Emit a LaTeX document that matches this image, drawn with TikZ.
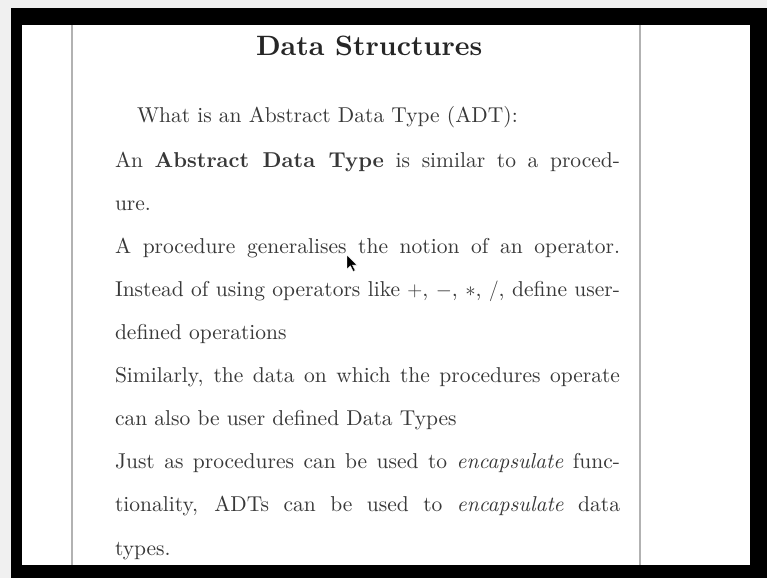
\documentclass[tikz,border=0pt]{standalone}
\usepackage{fontspec}
\setmainfont{lmroman10-regular.otf}[
  BoldFont=lmroman10-bold.otf,
  ItalicFont=lmroman10-italic.otf,
  BoldItalicFont=lmroman10-bolditalic.otf]

\tikzset{
  bodyline/.style={anchor=base west, inner sep=0pt, outer sep=0pt,
    text=black!78, font=\fontsize{21.5}{26}\selectfont},
  titleline/.style={anchor=base west, inner sep=0pt, outer sep=0pt,
    text=black!85, font=\fontsize{28}{32}\selectfont\bfseries},
  ruleline/.style={draw=black!30, line width=1.5pt}
}
% width of a justified line of the page
\newlength{\linew}
\setlength{\linew}{505pt}

\begin{document}
\begin{tikzpicture}[x=1pt, y=-1pt]
  \useasboundingbox (0,0) rectangle (767,578);
  % screen background, dark frame and page
  \fill[black!6] (0,0) rectangle (767,578);
  \fill[black] (11,8) rectangle (767,578);
  \fill[white] (22,25) rectangle (750,565);
  % page margin rules
  \draw[ruleline] (72,25) -- (72,565);
  \draw[ruleline] (640,25) -- (640,565);

  % heading
  \node[titleline] (title) at (256,56) {Data Structures};

  % body text, double spaced
  \node[bodyline] (l0) at (137,122) {What is an Abstract Data Type (ADT):};
  \node[bodyline] (l1) at (115,167) {\hbox to \linew{An \textbf{Abstract Data Type} is similar to a proced-}};
  \node[bodyline] (l2) at (115,210) {ure.};
  \node[bodyline] (l3) at (115,253) {\hbox to \linew{A procedure generalises the notion of an operator.}};
  \node[bodyline] (l4) at (115,296) {\hbox to \linew{Instead of using operators like $+$, $-$, $*$, $/$, define user-}};
  \node[bodyline] (l5) at (115,339) {defined operations};
  \node[bodyline] (l6) at (115,382) {\hbox to \linew{Similarly, the data on which the procedures operate}};
  \node[bodyline] (l7) at (115,425) {can also be user defined Data Types};
  \node[bodyline] (l8) at (115,468) {\hbox to \linew{Just as procedures can be used to \emph{encapsulate} func-}};
  \node[bodyline] (l9) at (115,511) {\hbox to \linew{tionality, ADTs can be used to \emph{encapsulate} data}};
  \node[bodyline] (l10) at (115,555) {types.};

  % mouse pointer
  \filldraw[fill=black, draw=white, line width=0.4pt]
    (347,255) -- ++(0,14) -- ++(3.4,-3.2) -- ++(2.8,5.6) -- ++(2,-1)
    -- ++(-2.8,-5.4) -- ++(4.6,0) -- cycle;

  % repaint the frame over the text that runs under it
  \fill[black] (11,565) rectangle (767,578);
\end{tikzpicture}
\end{document}
